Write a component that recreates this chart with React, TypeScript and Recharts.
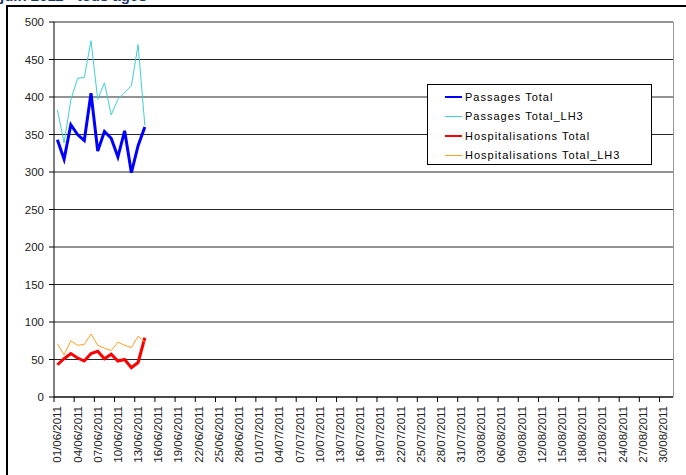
import React from "react";
import { LineChart, Line, XAxis, YAxis, CartesianGrid } from "recharts";

// categories: every day 01/06/2011 -> 31/08/2011
const months: [string, number][] = [["06", 30], ["07", 31], ["08", 31]];
const dates: string[] = [];
months.forEach(([m, n]) => {
  for (let d = 1; d <= n; d++) dates.push(`${String(d).padStart(2, "0")}/${m}/2011`);
});

const passagesTotal = [343, 317, 363, 350, 342, 405, 328, 354, 345, 320, 355, 299, 335, 360];
const passagesLH3 = [383, 339, 396, 425, 426, 475, 397, 419, 376, 397, 406, 415, 470, 362];
const hospTotal = [43, 51, 58, 52, 48, 58, 61, 51, 57, 48, 50, 39, 46, 79];
const hospLH3 = [71, 56, 75, 69, 70, 84, 69, 65, 62, 73, 69, 66, 81, 73];

const yTicks = [0, 50, 100, 150, 200, 250, 300, 350, 400, 450, 500];

const series = [
  { key: "passages", name: "Passages Total", color: "#0000ff", width: 3 },
  { key: "passagesLH3", name: "Passages Total_LH3", color: "#40d0d0", width: 1 },
  { key: "hosp", name: "Hospitalisations Total", color: "#ff0000", width: 3 },
  { key: "hospLH3", name: "Hospitalisations Total_LH3", color: "#ffa020", width: 1 },
];

const data = dates.map((date, i) => ({
  date,
  passages: passagesTotal[i] ?? null,
  passagesLH3: passagesLH3[i] ?? null,
  hosp: hospTotal[i] ?? null,
  hospLH3: hospLH3[i] ?? null,
}));

const W = 686;
const H = 475;
const M = { top: 22, right: 13, left: 0, bottom: 0 };
const Y_W = 54;
const X_H = 78;
const band = (W - M.right - Y_W) / dates.length;
const font = "Arial, 'Liberation Sans', sans-serif";

const XTick = (props: any) => {
  const { x, y, payload } = props;
  return (
    <g>
      <line x1={x - band / 2} x2={x - band / 2} y1={y - 5} y2={y} stroke="#000" />
      <text
        x={0}
        y={0}
        transform={`translate(${x + 4},${y + 4}) rotate(-90)`}
        textAnchor="end"
        fontSize={11.5}
        fill="#222"
        fontFamily={font}
      >
        {payload.value}
      </text>
    </g>
  );
};

export default function App() {
  return (
    <div style={{ position: "absolute", left: 0, top: 0, width: W, height: H, overflow: "hidden", background: "#fff" }}>
      <div
        style={{
          position: "absolute",
          left: 0,
          top: -13,
          fontFamily: font,
          fontWeight: "bold",
          fontSize: 15,
          color: "#1b3668",
          whiteSpace: "nowrap",
        }}
      >
        juin 2011 - tous âges
      </div>
      <div
        style={{
          position: "absolute",
          left: 6,
          top: 5,
          width: 720,
          height: 520,
          border: "2px solid #000",
        }}
      />
      <div
        style={{
          position: "absolute",
          left: W - M.right,
          top: M.top,
          width: 0,
          height: H - M.top - X_H,
          borderLeft: "1px solid #999",
        }}
      />
      <div style={{ position: "absolute", left: 0, top: 0 }}>
        <LineChart width={W} height={H} data={data} margin={M}>
          <CartesianGrid vertical={false} stroke="#000" strokeOpacity={0.85} />
          <XAxis
            dataKey="date"
            scale="band"
            interval={2}
            height={X_H}
            tick={<XTick />}
            tickLine={false}
            tickSize={5}
            tickMargin={0}
            axisLine={{ stroke: "#000" }}
          />
          <YAxis
            domain={[0, 500]}
            ticks={yTicks}
            width={Y_W}
            tickSize={5}
            tickMargin={5}
            interval={0}
            axisLine={{ stroke: "#000" }}
            tickLine={{ stroke: "#000" }}
            tick={{ fontSize: 11.5, fill: "#222", fontFamily: font }}
          />
          {series.map((s) => (
            <Line
              key={s.key}
              name={s.name}
              dataKey={s.key}
              stroke={s.color}
              strokeWidth={s.width}
              dot={false}
              isAnimationActive={false}
            />
          ))}
        </LineChart>
      </div>
      <div
        style={{
          position: "absolute",
          left: 427,
          top: 84,
          width: 225,
          height: 81,
          border: "1px solid #000",
          background: "#fff",
          boxSizing: "border-box",
          paddingTop: 2,
          fontFamily: font,
          fontSize: 11,
          letterSpacing: 1,
          color: "#000",
        }}
      >
        {series.map((s) => (
          <div key={s.key} style={{ display: "flex", alignItems: "center", height: 19.5 }}>
            <div
              style={{
                marginLeft: 17,
                width: 17,
                height: s.width > 1 ? 2 : 1,
                background: s.color,
                marginRight: 3,
              }}
            />
            <span>{s.name}</span>
          </div>
        ))}
      </div>
    </div>
  );
}
